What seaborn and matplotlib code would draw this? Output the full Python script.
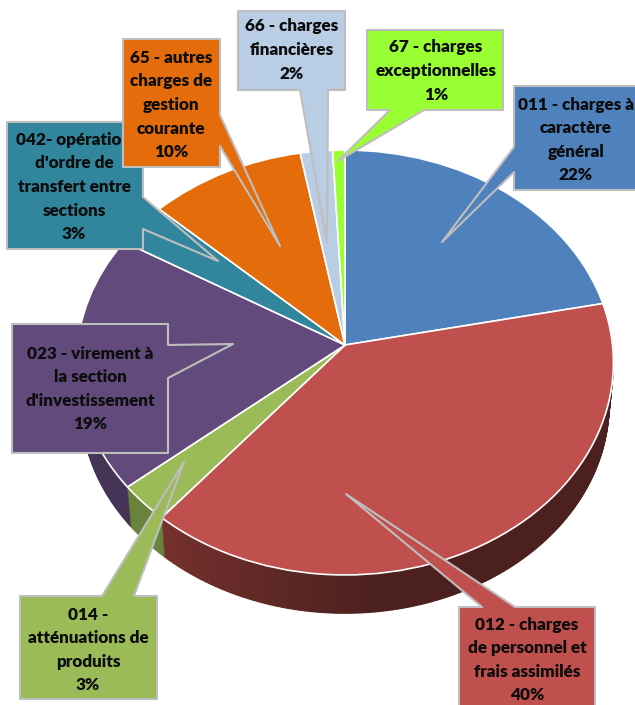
import numpy as np
import matplotlib
matplotlib.use("Agg")
import matplotlib.pyplot as plt
import matplotlib.transforms as mtransforms
from matplotlib.patches import Polygon
import seaborn as sns

# Data
codes = ["011", "012", "014", "023", "042", "65", "66", "67"]
shares = [21.8, 39.3, 2.9, 19.5, 3.4, 10.2, 2.1, 0.8]
labels = [
    "011 - charges à\ncaractère\ngénéral\n22%",
    "012 - charges\nde personnel et\nfrais assimilés\n40%",
    "014 -\natténuations de\nproduits\n3%",
    "023 - virement à\nla section\nd'investissement\n19%",
    "042- opération\nd'ordre de\ntransfert entre\nsections\n3%",
    "65 - autres\ncharges de\ngestion\ncourante\n10%",
    "66 - charges\nfinancières\n2%",
    "67 - charges\nexceptionnelles\n1%",
]
face_hex = ["#4F81BD", "#C0504D", "#9BBB59", "#624A7D", "#31859C", "#E46C0A", "#B9CDE5", "#99FF33"]
wall_hex = ["#3A5F8C", "#4B201E", "#69823C", "#463458", "#215E6E", "#A04C07", "#8090A0", "#6CB424"]

# Layout (pixel space of the 635x705 figure)
W, H = 635, 705
CX, CY = 345, 345
A, B, K = 267.5, 211, 0.0824
DEPTH = 42
SHRINK = 0.016

callouts = {
    "011": ([(514, 86), (640, 86), (640, 190), (514, 190), (514, 172), (442, 242), (514, 147)], (576, 140)),
    "012": ([(459, 607), (482, 607), (346, 494), (515, 607), (595, 607), (595, 712), (459, 712)], (527, 660)),
    "014": ([(20, 596), (102, 596), (184, 462), (134, 596), (157, 596), (157, 699), (20, 699)], (88, 650)),
    "023": ([(12, 324), (168, 324), (168, 345), (233, 344), (168, 378), (168, 453), (12, 453)], (90, 389)),
    "042": ([(7, 122), (143, 122), (143, 197), (218, 261), (143, 229), (143, 249), (7, 249)], (74, 187)),
    "65": ([(123, 39), (220, 39), (220, 115), (280, 246), (220, 146), (220, 167), (123, 167)], (171, 105)),
    "66": ([(238, 11), (345, 11), (345, 90), (328, 90), (327, 243), (300, 90), (238, 90)], (292, 50)),
    "67": ([(367, 30), (503, 30), (503, 110), (424, 110), (338, 161), (390, 110), (367, 110)], (436, 71)),
}
draw_order = ["012", "014", "023", "011", "042", "67", "66", "65"]


class Tilt(mtransforms.Transform):
    """Perspective view of the unit pie plane, in figure pixels."""
    input_dims = 2
    output_dims = 2
    has_inverse = False

    def __init__(self, scale=1.0, drop=0.0):
        super().__init__()
        self.scale = scale
        self.drop = drop

    def transform_non_affine(self, xy):
        xy = np.asarray(xy, dtype=float)
        w = 1 + K * xy[:, 1]
        return np.column_stack([
            CX + self.scale * A * xy[:, 0] / w,
            CY + self.drop - self.scale * B * xy[:, 1] / w,
        ])


sns.set_theme(style="white")
plt.rcParams["font.family"] = ["Lato", "DejaVu Sans"]

fig = plt.figure(figsize=(W / 100, H / 100), dpi=100)
ax = fig.add_axes([0, 0, 1, 1])

# Side wall: stacked copies of the pie, the big slice split to carry its gradient
n_red = 120
red_wall = sns.blend_palette(["#4B201E", "#4B201E", "#4B201E", "#75302D"], n_red)
wall_values, wall_colors = [], []
for i, v in enumerate(shares):
    if i == 1:
        wall_values += [v / n_red] * n_red
        wall_colors += list(red_wall)
    else:
        wall_values.append(v)
        wall_colors.append(wall_hex[i])

for d in range(DEPTH, 0, -1):
    t = d / DEPTH
    wedges, _ = ax.pie(wall_values, colors=wall_colors, startangle=90, counterclock=False,
                       wedgeprops=dict(linewidth=0.8))
    tr = Tilt(scale=1 - SHRINK * t, drop=d) + ax.transData
    for w in wedges:
        w.set_edgecolor(w.get_facecolor())
        w.set_transform(tr)

# Top face
wedges, _ = ax.pie(shares, colors=sns.color_palette(face_hex), startangle=90, counterclock=False,
                   wedgeprops=dict(edgecolor="white", linewidth=1.2))
tr = Tilt() + ax.transData
for w in wedges:
    w.set_transform(tr)

ax.set_aspect("auto")
ax.set_xlim(0, W)
ax.set_ylim(H, 0)
ax.axis("off")

# Callouts
colour_of = dict(zip(codes, face_hex))
label_of = dict(zip(codes, labels))
for z, code in enumerate(draw_order):
    verts, (tx, ty) = callouts[code]
    ax.add_patch(Polygon(verts, closed=True, facecolor=colour_of[code], edgecolor="#BEBEBE",
                         linewidth=1.5, joinstyle="round", zorder=10 + z, clip_on=True))
    ax.text(tx, ty, label_of[code], ha="center", va="center", ma="center", fontsize=12.3,
            fontweight=800, color="#0D0D0D", linespacing=1.58, zorder=10 + z)

fig.savefig("out.png", dpi=100, facecolor="white")
